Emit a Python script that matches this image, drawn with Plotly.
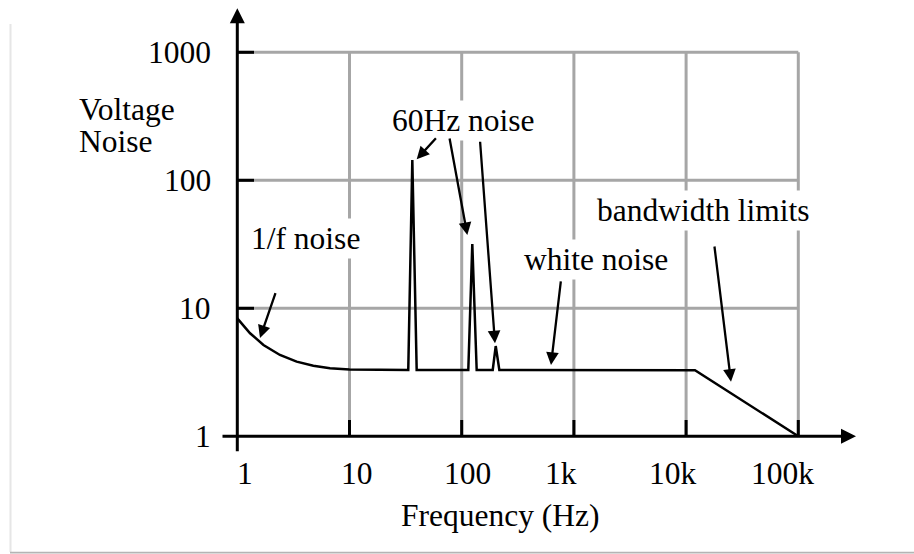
import math
import plotly.graph_objects as go

# ---------------- data ----------------
freq_hz = [1.0, 1.15, 1.30, 1.71, 2.40, 3.38, 4.76, 6.70, 10.0, 33.4, 36.3, 39.7,
           114.5, 124.3, 136.0, 189.0, 201.0, 216.5, 12000.0, 100000.0]
noise = [8.35, 7.25, 6.38, 5.17, 4.32, 3.83, 3.56, 3.40, 3.33, 3.30, 144.0, 3.30,
         3.30, 31.8, 3.30, 3.30, 5.07, 3.30, 3.28, 1.0]

x_ticks = [1, 10, 100, 1000, 10000, 100000]
x_tick_labels = ["1", "10", "100", "1k", "10k", "100k"]
y_ticks = [1, 10, 100, 1000]
y_tick_labels = ["1", "10", "100", "1000"]

x_title = "Frequency (Hz)"
y_title_lines = ["Voltage", "Noise"]

# pointer labels: text, (arrow tip freq, arrow tip noise)
labels = ["1/f noise", "60Hz noise", "white noise", "bandwidth limits"]
pointer_tips = [(1.593, 5.86), (39.7, 145.9), (112.2, 37.4), (198.0, 5.33),
                (625.0, 3.61), (25120.0, 2.67)]

# ---------------- layout helpers ----------------
W, H = 914, 554
FONT = "Liberation Serif, Times New Roman, serif"
FS = 31.5
GRID = "#a6a6a6"


def paper(px, py):
    return px / W, 1 - py / H


fig = go.Figure()
fig.add_trace(go.Scatter(x=freq_hz, y=noise, mode="lines",
                         line=dict(color="black", width=2.5),
                         hoverinfo="skip", showlegend=False))

shapes = []
# grid lines
for yv in y_ticks[1:]:
    shapes.append(dict(type="line", xref="x", yref="y", x0=x_ticks[0], x1=x_ticks[-1],
                       y0=yv, y1=yv, line=dict(color=GRID, width=3), layer="below"))
for xv in x_ticks[1:]:
    shapes.append(dict(type="line", xref="x", yref="y", x0=xv, x1=xv,
                       y0=y_ticks[0], y1=y_ticks[-1], line=dict(color=GRID, width=3), layer="below"))
# tick marks
for yv in y_ticks:
    shapes.append(dict(type="line", xref="x", yref="y", xsizemode="pixel", xanchor=x_ticks[0],
                       x0=-16.5, x1=16.7 if yv != y_ticks[0] else 0, y0=yv, y1=yv,
                       line=dict(color="black", width=3)))
for xv in x_ticks:
    shapes.append(dict(type="line", xref="x", yref="y", ysizemode="pixel", yanchor=y_ticks[0],
                       y0=-16.4, y1=16.3 if xv != x_ticks[0] else 0, x0=xv, x1=xv,
                       line=dict(color="black", width=3)))
# card shadow
shapes.append(dict(type="line", xref="paper", yref="paper", x0=10.5 / W, x1=10.5 / W,
                   y0=1 - 24 / H, y1=1 - 552 / H, line=dict(color="#e6e6e6", width=2)))
shapes.append(dict(type="line", xref="paper", yref="paper", x0=10 / W, x1=1,
                   y0=1 - 552.6 / H, y1=1 - 552.6 / H, line=dict(color="#b4b4b4", width=1.6)))

ann = []
# axis arrows
ann.append(dict(xref="x", yref="y", x=math.log10(x_ticks[0]), y=math.log10(y_ticks[-1]),
                yshift=44, ax=0, ay=444.4, text="", showarrow=True,
                arrowhead=2, arrowsize=1, arrowwidth=3, arrowcolor="black"))
ann.append(dict(xref="x", yref="y", x=math.log10(x_ticks[-1]), y=math.log10(y_ticks[0]),
                xshift=57.7, ax=-635, ay=0, text="", showarrow=True,
                arrowhead=2, arrowsize=1, arrowwidth=3, arrowcolor="black"))

# tick labels
x_label_shift = [7.7, 7.2, 5.8, -12.6, -13.6, -16.1]
for xv, lab, sh in zip(x_ticks, x_tick_labels, x_label_shift):
    ann.append(dict(xref="x", yref="y", x=math.log10(xv), y=0, xshift=sh, yshift=-37.2,
                    text=lab, showarrow=False, xanchor="center", yanchor="middle",
                    font=dict(family=FONT, size=FS, color="black"), borderpad=0, borderwidth=0))
for yv, lab in zip(y_ticks, y_tick_labels):
    ann.append(dict(xref="x", yref="y", x=0, y=math.log10(yv), xshift=-26.3,
                    text=lab, showarrow=False, xanchor="right", yanchor="middle",
                    font=dict(family=FONT, size=FS, color="black"), borderpad=0, borderwidth=0))

# axis titles
px, py = paper(500.8, 515.2)
ann.append(dict(xref="paper", yref="paper", x=px, y=py, text=x_title, showarrow=False,
                xanchor="center", yanchor="middle", font=dict(family=FONT, size=FS, color="black")))
for line, cy in zip(y_title_lines, [109.5, 141.9]):
    px, py = paper(79, cy)
    ann.append(dict(xref="paper", yref="paper", x=px, y=py, text=line, showarrow=False,
                    xanchor="left", yanchor="middle", font=dict(family=FONT, size=FS, color="black"),
                    borderpad=0, borderwidth=0))

# pointer labels with white background
label_pos = [(305, 238.3), (463, 120.5), (595.8, 259.5), (703.8, 210)]
for lab, (cx, cy) in zip(labels, label_pos):
    px, py = paper(cx, cy)
    ann.append(dict(xref="paper", yref="paper", x=px, y=py, text=lab, showarrow=False,
                    xanchor="center", yanchor="middle", bgcolor="white", borderpad=2,
                    font=dict(family=FONT, size=FS, color="black")))

# pointer arrows (tail offsets in pixels)
tail_offsets = [(16, -46.3), (20.6, -22.6), (-18, -98), (-15, -203), (10, -85), (-16.7, -136.7)]
for (fx, ny), (ax, ay) in zip(pointer_tips, tail_offsets):
    ann.append(dict(xref="x", yref="y", x=math.log10(fx), y=math.log10(ny), ax=ax, ay=ay,
                    text="", showarrow=True, arrowhead=2, arrowsize=1.1, arrowwidth=2.3,
                    arrowcolor="black", standoff=0))

x_lo = -237.3 / 112.2
x_hi = (W - 237.3) / 112.2
y_hi = 436.3 / 128
y_lo = -(H - 436.3) / 128

fig.update_layout(
    width=W, height=H, autosize=False,
    margin=dict(l=0, r=0, t=0, b=0),
    paper_bgcolor="white", plot_bgcolor="white",
    font=dict(family=FONT, size=FS, color="black"),
    xaxis=dict(type="log", range=[x_lo, x_hi], visible=False, fixedrange=True),
    yaxis=dict(type="log", range=[y_lo, y_hi], visible=False, fixedrange=True),
    shapes=shapes, annotations=ann, showlegend=False,
)

fig.write_html("out.html", config={"displayModeBar": False, "staticPlot": True},
               post_script="document.body.style.margin='0';document.body.style.overflow='hidden';")
